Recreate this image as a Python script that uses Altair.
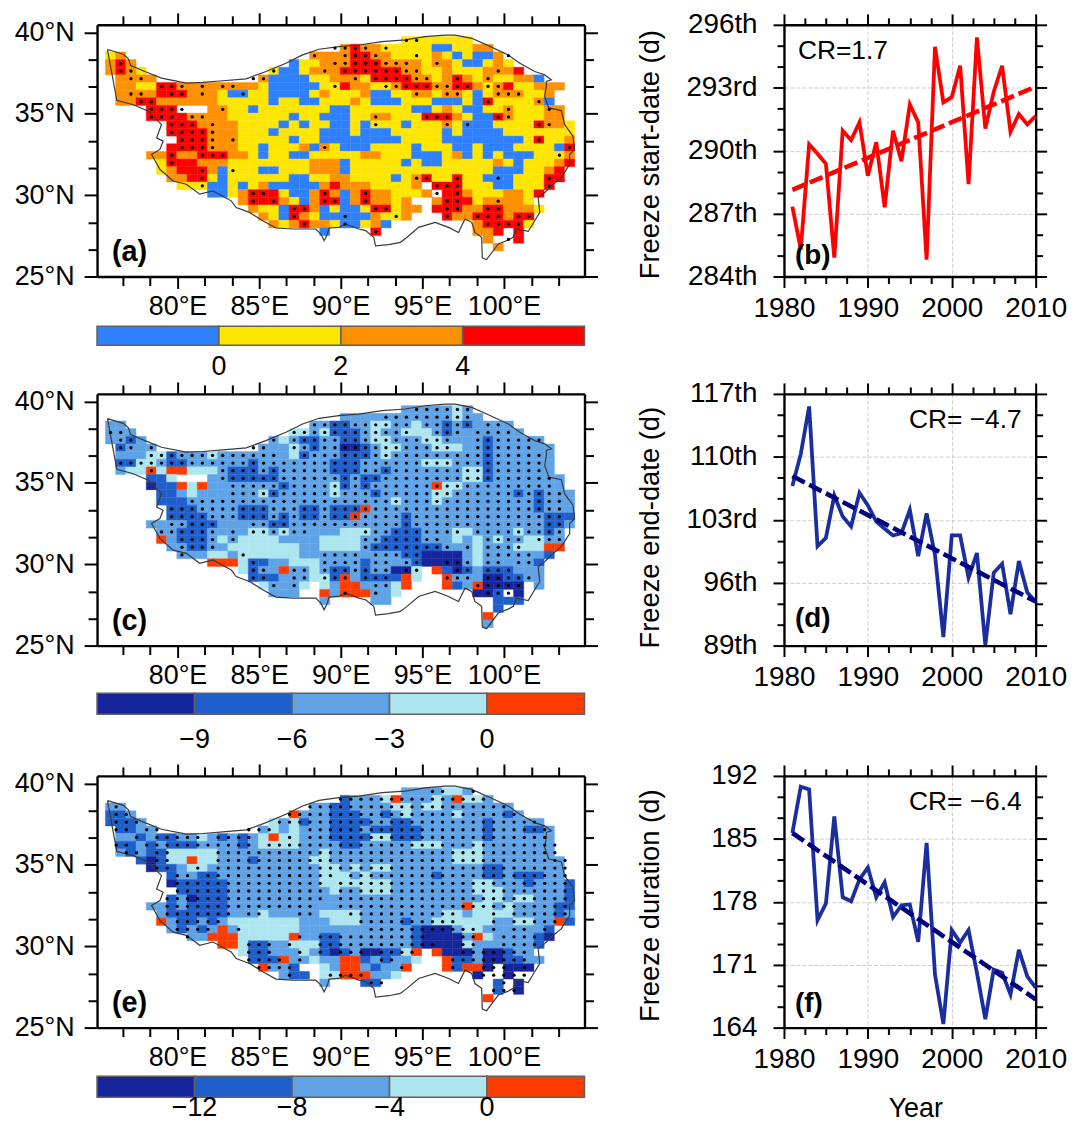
import altair as alt
import pandas as pd

FONT = "Liberation Sans"

YEARS = list(range(1981, 2011))
START = [287.33, 285.3, 290.3, 289.85, 289.37, 284.9, 290.95, 290.5, 291.35, 288.8,
         290.4, 287.3, 290.95, 289.5, 292.2, 291.35, 284.8, 294.95, 292.3, 292.55,
         294.05, 288.4, 295.4, 291.05, 292.8, 294.05, 290.9, 291.75, 291.25, 291.65]
START_TREND = [288.13, 293.05]
END = [106.76, 110.3, 115.6, 100.05, 101.0, 105.7, 103.35, 102.25, 106.0, 104.6,
       102.8, 102.0, 101.25, 101.5, 104.1, 98.95, 103.7, 99.1, 89.95, 101.25,
       101.25, 96.55, 99.3, 89.05, 97.1, 98.1, 92.5, 98.4, 94.9, 93.9]
END_TREND = [107.86, 93.9]
DUR = [185.65, 190.8, 190.5, 175.95, 177.8, 187.5, 178.5, 178.05, 180.5, 181.8,
       178.5, 180.15, 176.3, 177.6, 177.7, 173.55, 184.55, 169.9, 164.4, 174.85,
       173.45, 174.85, 170.1, 164.95, 170.45, 170.1, 167.7, 172.65, 169.7, 168.45]
DUR_TREND = [185.65, 167.15]

OUTLINE_LON = [75.71, 76.68, 76.99, 77.13, 78.0, 79.02, 80.54, 81.56, 82.78, 84.2, 85.42, 86.64,
               87.66, 88.67, 89.89, 91.11, 92.53, 93.95, 95.17, 96.39, 97.0, 98.02, 99.04, 100.26,
               100.97, 101.88, 102.49, 102.9, 102.59, 102.59, 102.49, 102.74, 103.51, 103.71,
               104.22, 104.32, 104.02, 104.02, 103.51, 102.9, 102.49, 102.09, 102.19, 101.88,
               101.48, 100.76, 100.56, 100.26, 99.65, 98.93, 98.67, 98.63, 98.22, 98.02, 97.61,
               97.21, 96.6, 95.78, 94.77, 94.06, 93.65, 92.94, 92.13, 92.02, 91.52, 91.11, 90.3,
               89.89, 89.28, 89.18, 88.98, 88.78, 88.47, 87.05, 86.03, 85.22, 84.41, 83.59, 83.29,
               82.17, 81.36, 80.54, 79.73, 78.92, 78.41, 78.92, 79.12, 78.72, 79.02, 78.21, 77.29,
               76.28, 75.71]
OUTLINE_LAT = [38.95, 38.66, 38.38, 37.97, 37.6, 37.19, 36.89, 36.93, 37.03, 37.15, 37.6, 38.11,
               38.62, 38.97, 39.13, 39.23, 39.44, 39.54, 39.74, 39.84, 39.84, 39.64, 39.19, 38.62,
               38.11, 37.6, 37.4, 37.09, 36.99, 36.68, 36.07, 35.36, 35.2, 34.34, 33.63, 32.81,
               32.5, 31.89, 31.08, 30.57, 30.16, 29.85, 28.94, 28.43, 27.77, 27.92, 27.41, 27.24,
               27.0, 26.04, 26.14, 27.41, 27.71, 28.33, 28.53, 27.71, 28.02, 28.33, 28.02, 27.41,
               27.1, 26.96, 26.88, 27.41, 27.82, 27.92, 28.22, 28.02, 27.98, 27.61, 27.2, 27.61,
               27.92, 27.92, 27.98, 28.43, 28.94, 29.24, 29.65, 30.26, 30.06, 30.67, 30.87, 31.59,
               32.5, 32.81, 33.32, 33.52, 34.34, 35.16, 35.56, 35.83, 38.95]

MAP_A = [
    (24, 29, "yyyyyyy"),
    (23, 23, "orooyyyyybbyyoo"),
    (22, 0, "yo"), (22, 20, "oooorrooyyyyoybybbo"),
    (21, 0, "oro"), (21, 18, "byyooorrrooooyooybbyoy"),
    (20, 0, "oroy"), (20, 16, "ybbyooorrrrrrooyyoyyyooor"),
    (19, 1, "oooo"), (19, 15, "obbbbyyoooyrrrrooyoroyoyyoob"),
    (18, 1, "ooyyrrooooooooybbbbbyyrooyyorrroorroyoryyooo"),
    (17, 1, "oooorrroooybbyybbbbyoyyyobbyyooyooybyoooyyo"),
    (16, 1, "oorrooooooyyyyybyybbyyyoybbbyyybbbybryyyyob"),
    (15, 4, "rrr   ooyybyyyyyyybbyyyyyybbyoybbyyoyyyoo"),
    (14, 4, "rrrrooooyyyyyybyybbbyyooyyyrrroybbroyyyoo"),
    (13, 6, "rrrooooyyyybybyybbybyyybyyyoybbbyyyyrooy"),
    (12, 6, "rrrroooyyybyyyybbbybbbyyyyybybbbbyyyyyyy"),
    (11, 7, "rrroooyyyyybyybbbbbbbbyyyybbbbbbbbyryyo"),
    (10, 6, "rrrroooyybyyyoboybbbyyyybyyybbybbbyyyybr"),
    (9, 4, "ooroorrrooybyybbyyyyyooyyybbbyobybybbbyyyo"),
    (8, 5, "yrrroooyyyyyyyyooobyyyyybybbyyyyyoybyyyor"),
    (7, 5, "yorrrobyyybbyyyooobyyyyyyyyyyyyyybbbyyor"),
    (6, 6, "oorrybyyyyyybbyyooyyyybyoryyryybbbyyyrr"),
    (5, 7, "yyybbybyobbbbborooo" "yyyyo rrryyybbyyyr"),
    (4, 10, "bbyorrrybborobor" "ooyyyo rroyyyooyr"),
    (3, 13, "orrroyborrbor" "ooyo  orrryooooy"),
    (2, 14, "oyybrrobybbyrryoo rrroorroooy"),
    (1, 15, "oybroybbbbboyyo   roorrrorr"),
    (0, 16, "oyorooybbyob"), (0, 36, "orrrry"),
    (-1, 21, "b"), (-1, 26, "r"), (-1, 36, "oor r"),
    (-2, 37, "o"), (-2, 40, "r"),
    (-3, 38, "o"),
]
DOTS_A = {
    24: "29-30", 23: "22-25,27", 22: "20,23-26,30,39", 21: "1,22-29,32", 20: "1-2,16,21,23-30,38",
    19: "2-3,14-15,24,26-31,34,37", 18: "5-7,9,11-12,22,27-35,37-38", 17: "2-3,6-7,9,13,30,33-34,38-40",
    16: "3-4,37,42", 15: "4-7,11,39,43", 14: "4-6,8-9,26,31-33,38-39", 13: "6-8,10,26,33,35,42-43",
    12: "6-10", 11: "7-10,12,42", 10: "7-10,21,45", 9: "6,9-11,44", 8: "6", 7: "9,12", 6: "9,30-31,34,38,43",
    5: "9,32-34,43", 4: "14-15,21,25,32,34", 3: "14,16,21-22,25,33-34,38", 2: "18-19,26-27,33-34,37-38",
    1: "18,23,28,33,36-38,40-41", 0: "19,23,37-40", -1: "26", -2: "39",
}

MAP_C = [
    (24, 29, "3333343"),
    (23, 23, "33333333333433"),
    (22, 0, "33"), (22, 20, "33223344334332323333"),
    (21, 0, "333"), (21, 18, "44342223433444323333333"),
    (20, 0, "3323"), (20, 16, "343223322344333443333233333"),
    (19, 1, "2333"), (19, 15, "33343233112344333444332333333"),
    (18, 1, "3334423334333333342333222343333333332333333"),
    (17, 1, "2244322333333233333332223333334443332333333"),
    (16, 1, "3445455444" "3222323333" "3222332333" "3333442333" "333"),
    (15, 4, "224   33" "22222" "333333" "2" "3" "22" "33333333" "44" "2" "3333333"),
    (14, 4, "12254533333332333342323333335443333333333"),
    (13, 5, "22343333334233333433323333344333333232333"),
    (12, 5, "222" "33333333333333333333" "4" "333" "4" "333333333" "2" "333"),
    (11, 6, "222" "3333" "222" "333" "22" "3" "222" "5" "3333333333333333" "2" "333"),
    (10, 6, "2222333222" "3232232253" "3332333333" "3333333222"),
    (9, 4, "33332223333322333333" "3333323333333333333223"),
    (8, 5, "33222" "3333" "44" "3" "4" "33333" "444" "33" "222" "333" "44" "3333" "4" "33" "2" "3"),
    (7, 5, "53222343" "4444" "3333" "4444" "33" "2222" "333" "4" "3" "4" "3" "4" "33" "44" "33"),
    (6, 6, "3322" "33" "4444444" "33" "4444" "3" "2222222" "333" "4" "333" "444" "55"),
    (5, 7, "333443444444" "3333333333" "2" "21111343333332"),
    (4, 10, "5554" "22" "33" "444" "3333" "2" "3333" "2" "1111" "3" "4" "33333" "2"),
    (3, 13, "4233533" "4" "3" "22" "3" "2" "33" "11" "4" " " "5" "2" "1" "2" "3" "222" "333"),
    (2, 14, "222" "333" "44" "2" "5" "3" "2222" "5" "4" "  " "5" "333" "11" "22" "33"),
    (1, 15, "43334 435533345   52351111 3"),
    (0, 16, "333  53555334"), (0, 36, "112 1"),
    (-1, 21, "3"), (-1, 26, "33"), (-1, 38, "22"), (-1, 40, "2"),
    (-2, 38, "2"),
    (-3, 37, "5"), (-4, 37, "3"),
]
DOTS_C = {
    24: "30-35", 23: "27-35", 22: "20-29,31-35,37-38", 21: "0-1,18-29,32-34,36-39",
    20: "1-2,16,18-33,36-42", 19: "1-2,4,14-15,18-33,36-41", 18: "4-16,19-42", 17: "1-42",
    16: "4,11-42", 15: "11-43", 14: "12-43", 13: "12-44", 12: "8-44", 11: "6-44", 10: "6-44",
    9: "6-10,14-44", 8: "5-10,12,14-19,25-34,36-44", 7: "7-10,12,25-32,37-40,42-44",
    6: "7-10,25-33,35,37-40", 5: "7,13,21-24,26-30,37-41", 4: "14,21-24,26-27,29-30,33-35,37-38,40-41",
    3: "14-15,18-19,21-27,29-30,34-35,37-39", 2: "14-15,18-19,21-23,25-27,33-35,37-41",
    1: "16,18,26-27,36-40", 0: "23,26,37-39",
}

MAP_E = [
    (24, 29, "3333443"),
    (23, 23, "233345" "333" "4" "3" "5" "44" "3"),
    (22, 0, "33"), (22, 20, "33" "22" "3333" "44" "3" "44" "3333333"),
    (21, 0, "223"), (21, 18, "5" "333" "222" "33" "2" "3" "4" "3333" "4" "3333" "2" "3"),
    (20, 0, "2223"), (20, 16, "434" "2" "33" "2222" "33" "22" "3333333" "2" "33333"),
    (19, 1, "2233"), (19, 15, "3434" "333" "222" "3" "22222" "333333" "2" "333" "22" "3"),
    (18, 1, "332322334323234544" "333" "2222" "44" "222" "333333" "2" "333333"),
    (17, 1, "2232322233332344443333223333344433343333333"),
    (16, 1, "32322" "44444" "3333333333" "4" "333333333333" "444" "3333333"),
    (15, 3, "2" "1" "2" "44" "5" "44" "333" "2" "33333" "44" "333333333333" "444" "33333333"),
    (14, 4, "122344" "33333333333" "44" "3" "4" "3" "44" "333333333" "22" "333333"),
    (13, 6, "2" "33" "22" "3333333333" "444" "3" "4" "333333" "2" "3333" "22" "3" "222" "33"),
    (12, 6, "1" "22222" "333333333" "4444444" "33333333" "44" "333" "2" "333" "2"),
    (11, 7, "22222" "3333333333" "4" "33" "444" "33333333" "444" "333333" "2"),
    (10, 6, "231222" "3333333333333333333333333" "44" "3" "44" "333" "2"),
    (9, 4, "33232222" "33333333333333333333333" "5" "44" "3" "4" "3333" "22"),
    (8, 5, "3" "222222" "333" "4" "33333" "4444" "33333333" "44" "3" "4444" "3333" "2" "3"),
    (7, 5, "5" "3" "22" "3" "2" "3" "4444444" "333" "444" "3333" "2" "33" "444444" "33" "44" "33" "5" "2"),
    (6, 6, "323235" "3" "444444" "33333333333" "2" "111" "3" "44" "333333" "2"),
    (5, 8, "33" "555" "44444" "5" "33" "22" "3333333" "2" "1111" "3" "5" "4" "3333" "2" "1"),
    (4, 11, "55" "4" "22" "33" "444" "22" "3333333" "2" "1111" "4" "333333" "2"),
    (3, 13, "4223334321" "231122" "45 5" "111311233"),
    (2, 14, "2225334335" "523233" "4  5" "223" "112233"),
    (1, 15, "5332  435" "532335" "   5255" "1 111"),
    (0, 17, "322 44555334"), (0, 36, "1  1"),
    (-1, 21, "3"), (-1, 25, "22"), (-1, 38, "2"), (-1, 40, "1"),
    (-2, 38, "2"), (-2, 40, "1"),
    (-3, 37, "5"),
]
DOTS_E = {
    24: "31-32,35", 23: "22-36", 22: "0,19-38", 21: "0-1,17-39", 20: "0-2,16-41",
    19: "0-1,3-4,13-15,19-42", 18: "2,4-8,10-13,17,19-42", 17: "0-1,3-13,15-43", 16: "1-2,4-5,10-43",
    15: "4-5,10-44", 14: "4-5,8,10-44", 13: "6-7,9-21,23-44", 12: "6-20,22-44", 11: "6-20,22-44",
    10: "5-20,22-44", 9: "5-19,22-44", 8: "5-11,13-14,18-19,23-33,37,39-44", 7: "6-10,24-33,37,39-43",
    6: "6-9,12,25-35,37,39-40,42", 5: "7,18,20-30,34-35,38-41", 4: "13-15,17,20-31,34-35,38-41",
    3: "13-15,18,20,22-24,26-29,34-40", 2: "13-16,18,26-27,33-40", 1: "14-17,28,33,36-38,40",
    0: "17,21-24,36-40", -1: "25-26,38", -2: "37-39",
}

PAL_A = {"b": "#2f80ff", "y": "#ffe600", "o": "#ff9000", "r": "#ff0000"}
PAL_C = {"1": "#16259b", "2": "#1f5fcb", "3": "#5fa3e6", "4": "#aee6f0", "5": "#ff3c00"}

BAR_A = [-2, 0, 2, 4, 6]
BAR_C = [-12, -9, -6, -3, 0, 3]
BAR_E = [-16, -12, -8, -4, 0, 4]
BAR_A_COL = ["b", "y", "o", "r"]
BAR_C_COL = ["1", "2", "3", "4", "5"]
LAB_A = [(0, "0"), (2, "2"), (4, "4")]
LAB_C = [(-9, "\u22129"), (-6, "\u22126"), (-3, "\u22123"), (0, "0")]
LAB_E = [(-12, "\u221212"), (-8, "\u22128"), (-4, "\u22124"), (0, "0")]

LON_STEP, LAT_STEP = 0.625, 0.4705
LON_DOM, LAT_DOM = [75.07, 104.93], [25, 40.47]
LON_MAJ = [80, 85, 90, 95, 100]
LON_MIN = [76.67, 78.33, 81.67, 83.33, 86.67, 88.33, 91.67, 93.33, 96.67, 98.33, 101.67, 103.33]
LAT_MAJ = [25, 30, 35, 40]
LAT_MIN = [26.67, 28.33, 31.67, 33.33, 36.67, 38.33]
YR_MAJ = [1980, 1990, 2000, 2010]
YR_MIN = [1982.5, 1985, 1987.5, 1992.5, 1995, 1997.5, 2002.5, 2005, 2007.5]

MAP_W, MAP_H, LINE_W = 490, 253, 253


def lon_of(i):
    return 90.27 + LON_STEP * (i - 23)


def lat_of(j):
    return 28.22 + LAT_STEP * j


def parse_ranges(s):
    out = []
    for part in s.split(","):
        a, _, b = part.partition("-")
        out.extend(range(int(a), int(b or a) + 1))
    return out


def axis(orient, values, size, labels=False, expr=None, domain=False, grid=False, pad=9, fs=27, **extra):
    kw = dict(orient=orient, values=values, tickSize=size, tickWidth=2, tickColor="black",
              domain=domain, domainColor="black", domainWidth=2.4, title=None,
              labels=labels, grid=grid, ticks=True)
    if labels:
        kw.update(labelFont=FONT, labelFontSize=fs, labelColor="black", labelPadding=pad,
                  labelFlush=False, labelOverlap=False)
    if expr:
        kw["labelExpr"] = expr
    if grid:
        kw.update(gridColor="#cccccc", gridDash=[4, 2], gridWidth=1)
    kw.update(extra)
    return alt.Axis(**kw)


def carriers(xs, ys, xaxes, yaxes):
    one = pd.DataFrame({"x": [xs.domain[0]], "y": [ys.domain[0]]})
    return [alt.Chart(one).mark_point(opacity=0).encode(
        x=alt.X("x:Q", scale=xs, axis=xa), y=alt.Y("y:Q", scale=ys, axis=ya))
        for xa, ya in zip(xaxes, yaxes)]


def map_panel(rows, dots, pal, label, dot_shift=0.0):
    recs = []
    for j, start, s in rows:
        for k, ch in enumerate(s):
            if ch == " ":
                continue
            i = start + k
            recs.append(dict(x=lon_of(i) - LON_STEP / 2, x2=lon_of(i) + LON_STEP / 2,
                             y=lat_of(j) - LAT_STEP / 2, y2=lat_of(j) + LAT_STEP / 2, c=pal[ch]))
    cells = pd.DataFrame(recs)
    pts = pd.DataFrame([dict(x=lon_of(i + dot_shift), y=lat_of(j))
                        for j, s in dots.items() for i in parse_ranges(s)])
    line = pd.DataFrame(dict(x=OUTLINE_LON, y=OUTLINE_LAT, n=range(len(OUTLINE_LON))))
    xs = alt.Scale(domain=LON_DOM, nice=False, zero=False)
    ys = alt.Scale(domain=LAT_DOM, nice=False, zero=False)
    rect = alt.Chart(cells).mark_rect(strokeWidth=0.4).encode(
        x=alt.X("x:Q", scale=xs, axis=None), x2="x2:Q",
        y=alt.Y("y:Q", scale=ys, axis=None), y2="y2:Q",
        color=alt.Color("c:N", scale=None),
        stroke=alt.Stroke("c:N", scale=None))
    out = alt.Chart(line).mark_line(color="#3a3a3a", strokeWidth=1.2).encode(
        x=alt.X("x:Q", scale=xs, axis=None), y=alt.Y("y:Q", scale=ys, axis=None), order="n:Q")
    dot = alt.Chart(pts).mark_circle(color="black", size=11, opacity=1).encode(
        x=alt.X("x:Q", scale=xs, axis=None), y=alt.Y("y:Q", scale=ys, axis=None))
    txt = alt.Chart(pd.DataFrame({"t": [label]})).mark_text(
        font=FONT, fontSize=29, fontWeight="bold", align="left", baseline="middle", color="black"
    ).encode(text="t:N", x=alt.value(15), y=alt.value(228))
    cs = carriers(
        xs, ys,
        [axis("bottom", LON_MAJ, 12, True, "datum.value+'\u00b0E'", True, pad=5), axis("bottom", LON_MIN, 9),
         axis("top", LON_MAJ, 12, domain=True), axis("top", LON_MIN, 9)],
        [axis("left", LAT_MAJ, 13, True, "datum.value+'\u00b0N'", True, pad=10), axis("left", LAT_MIN, 9),
         axis("right", LAT_MAJ, 13, domain=True), axis("right", LAT_MIN, 9)])
    return alt.layer(rect, out, dot, txt, *cs).resolve_axis(x="independent", y="independent").properties(
        width=MAP_W, height=MAP_H)


def line_panel(vals, trend, dom, maj, mnr, col, tcol, ytitle, title_y, cr, cr_x, cr_align, label, label_y,
               expr=None, xtitle=None):
    xs = alt.Scale(domain=[1980, 2010], nice=False, zero=False)
    ys = alt.Scale(domain=dom, nice=False, zero=False)
    df = pd.DataFrame(dict(x=YEARS, y=vals))
    td = pd.DataFrame(dict(x=[YEARS[0], YEARS[-1]], y=trend))
    ser = alt.Chart(df).mark_line(color=col, strokeWidth=3.8, strokeJoin="miter", clip=False).encode(
        x=alt.X("x:Q", scale=xs, axis=None), y=alt.Y("y:Q", scale=ys, axis=None))
    tr = alt.Chart(td).mark_line(color=tcol, strokeWidth=4.6, strokeDash=[14, 5]).encode(
        x=alt.X("x:Q", scale=xs, axis=None), y=alt.Y("y:Q", scale=ys, axis=None))
    t1 = alt.Chart(pd.DataFrame({"t": [cr]})).mark_text(
        font=FONT, fontSize=26.5, align=cr_align, baseline="middle", color="black"
    ).encode(text="t:N", x=alt.value(cr_x), y=alt.value(26))
    t2 = alt.Chart(pd.DataFrame({"t": [label]})).mark_text(
        font=FONT, fontSize=28, fontWeight="bold", align="left", baseline="middle", color="black"
    ).encode(text="t:N", x=alt.value(11), y=alt.value(label_y))

    x_extra = dict(format="d")
    if xtitle:
        x_extra.update(title=xtitle, titleFont=FONT, titleFontSize=27, titleFontWeight="normal", titleColor="black",
                       titleX=132, titleY=81, titleBaseline="middle", titleAlign="center")
    xa = axis("bottom", YR_MAJ, 11, True, None, True, True, pad=7, fs=28, **x_extra)
    ya = axis("left", maj, 11, True, expr, True, True, pad=16, fs=28,
              title=ytitle, titleFont=FONT, titleFontSize=27.5, titleFontWeight="normal", titleColor="black",
              titleAngle=-90, titleX=-134, titleY=title_y, titleBaseline="middle", titleAlign="center")
    cs = carriers(
        xs, ys,
        [xa, axis("top", YR_MAJ, 11, domain=True), axis("top", YR_MIN, 7), axis("bottom", YR_MIN, 7)],
        [ya, axis("left", mnr, 7), axis("right", maj, 11, domain=True), axis("right", mnr, 7)])
    return alt.layer(*cs, ser, tr, t1, t2).resolve_axis(x="independent", y="independent").properties(
        width=LINE_W, height=MAP_H)


def bar_panel(edges, cols, pal, labels, height, bar_top, bar_bot, lab_y):
    d = pd.DataFrame(dict(x=edges[:-1], x2=edges[1:], c=[pal[k] for k in cols]))
    xs = alt.Scale(domain=[edges[0], edges[-1]], nice=False, zero=False)
    r = alt.Chart(d).mark_rect(stroke="#606060", strokeWidth=1.5).encode(
        x=alt.X("x:Q", scale=xs, axis=None), x2="x2:Q", y=alt.value(bar_top), y2=alt.value(bar_bot),
        color=alt.Color("c:N", scale=None))
    l = pd.DataFrame({"x": [a for a, _ in labels], "t": [b for _, b in labels]})
    t = alt.Chart(l).mark_text(font=FONT, fontSize=27, baseline="middle", align="center", color="black").encode(
        x=alt.X("x:Q", scale=xs, axis=None), y=alt.value(lab_y), text="t:N")
    return alt.layer(r, t).properties(width=MAP_W, height=height)


def spacer(h):
    return alt.Chart(pd.DataFrame({"x": [0]})).mark_point(opacity=0).encode(x=alt.value(0), y=alt.value(0)).properties(
        width=LINE_W, height=h)


a = map_panel(MAP_A, DOTS_A, PAL_A, "(a)")
c = map_panel(MAP_C, DOTS_C, PAL_C, "(c)")
e = map_panel(MAP_E, DOTS_E, PAL_C, "(e)", dot_shift=0.55)

b = line_panel(START, START_TREND, [284, 296], [284, 287, 290, 293, 296],
               [285, 286, 288, 289, 291, 292, 294, 295], "#ff0000", "#ff0000", "Freeze start-date (d)", 130,
               "CR=1.7", 14, "left", "(b)", 232,
               "datum.value==293 ? datum.value+'rd' : datum.value+'th'")
d = line_panel(END, END_TREND, [89, 117], [89, 96, 103, 110, 117],
               [91.33, 93.67, 98.33, 100.67, 105.33, 107.67, 112.33, 114.67], "#1a2ea0", "#000080",
               "Freeze end-date (d)", 134, "CR= \u22124.7", 239, "right", "(d)", 226,
               "datum.value==103 ? datum.value+'rd' : datum.value+'th'")
f = line_panel(DUR, DUR_TREND, [164, 192], [164, 171, 178, 185, 192],
               [166.33, 168.67, 173.33, 175.67, 180.33, 182.67, 187.33, 189.67], "#1a2ea0", "#000080",
               "Freeze duration (d)", 130, "CR= \u22126.4", 239, "right", "(f)", 229,
               None, "Year")

cb_a = bar_panel(BAR_A, BAR_A_COL, PAL_A, LAB_A, 118, 50, 69, 91)
cb_c = bar_panel(BAR_C, BAR_C_COL, PAL_C, LAB_C, 131, 48, 69, 95)
cb_e = bar_panel(BAR_E, BAR_C_COL, PAL_C, LAB_E, 81, 49, 70, 81)

chart = alt.concat(
    a, b, cb_a, spacer(118), c, d, cb_c, spacer(131), e, f, cb_e, spacer(81),
    columns=2, spacing={"row": 0, "column": 200.5}, bounds="flush", align="each",
).properties(padding={"left": 5.5, "top": 0, "right": 0, "bottom": 0}, background="white").configure_view(stroke=None)

chart.save("out.html", embed_options={"renderer": "svg", "actions": False})
